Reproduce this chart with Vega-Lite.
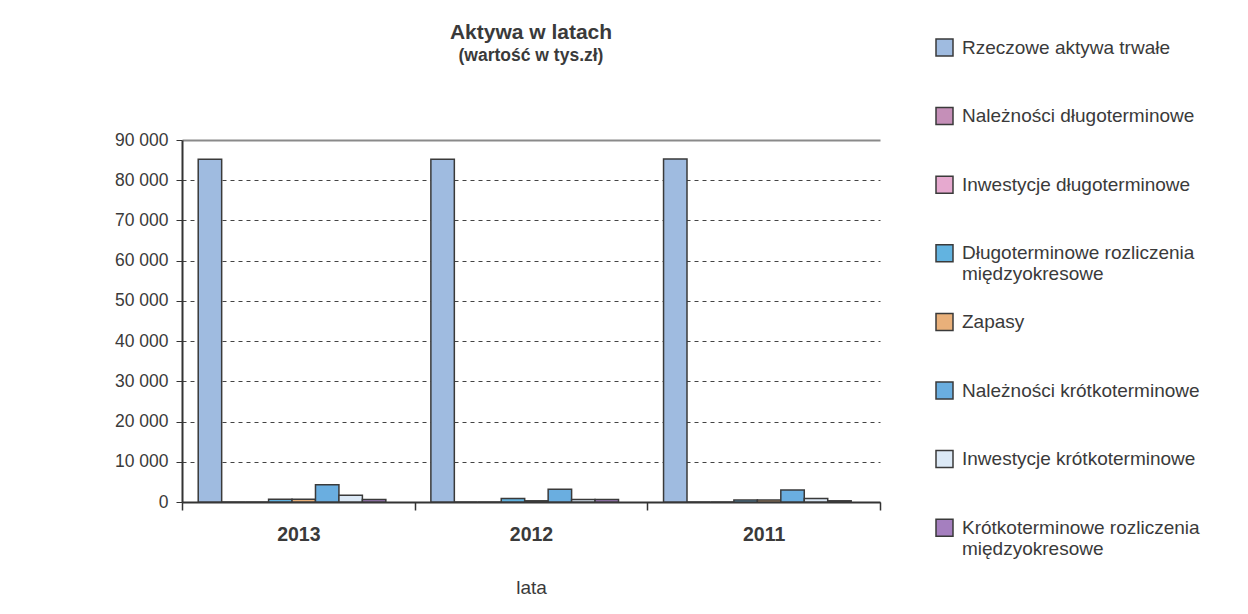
{
  "$schema": "https://vega.github.io/schema/vega-lite/v6.json",
  "width": 698,
  "height": 362,
  "autosize": {"type": "none"},
  "padding": {"left": 182, "top": 140, "right": 368, "bottom": 112},
  "background": "white",
  "config": {
    "font": "Liberation Sans",
    "view": {"stroke": null}
  },
  "title": {
    "text": "Aktywa w latach",
    "subtitle": "(wartość w tys.zł)",
    "anchor": "middle",
    "frame": "group",
    "fontSize": 21,
    "fontWeight": "bold",
    "color": "#3a3a3a",
    "subtitleFontSize": 17.5,
    "subtitleFontWeight": "bold",
    "subtitleColor": "#3a3a3a",
    "subtitlePadding": 4,
    "offset": -26
  },
  "data": {
    "values": [
      {"rok": "2013", "kategoria": "Rzeczowe aktywa trwałe", "wartosc": 85200},
      {"rok": "2013", "kategoria": "Należności długoterminowe", "wartosc": 0},
      {"rok": "2013", "kategoria": "Inwestycje długoterminowe", "wartosc": 0},
      {"rok": "2013", "kategoria": "Długoterminowe rozliczenia międzyokresowe", "wartosc": 700},
      {"rok": "2013", "kategoria": "Zapasy", "wartosc": 700},
      {"rok": "2013", "kategoria": "Należności krótkoterminowe", "wartosc": 4300},
      {"rok": "2013", "kategoria": "Inwestycje krótkoterminowe", "wartosc": 1700},
      {"rok": "2013", "kategoria": "Krótkoterminowe rozliczenia międzyokresowe", "wartosc": 600},
      {"rok": "2012", "kategoria": "Rzeczowe aktywa trwałe", "wartosc": 85200},
      {"rok": "2012", "kategoria": "Należności długoterminowe", "wartosc": 0},
      {"rok": "2012", "kategoria": "Inwestycje długoterminowe", "wartosc": 0},
      {"rok": "2012", "kategoria": "Długoterminowe rozliczenia międzyokresowe", "wartosc": 900},
      {"rok": "2012", "kategoria": "Zapasy", "wartosc": 300},
      {"rok": "2012", "kategoria": "Należności krótkoterminowe", "wartosc": 3200},
      {"rok": "2012", "kategoria": "Inwestycje krótkoterminowe", "wartosc": 600},
      {"rok": "2012", "kategoria": "Krótkoterminowe rozliczenia międzyokresowe", "wartosc": 600},
      {"rok": "2011", "kategoria": "Rzeczowe aktywa trwałe", "wartosc": 85300},
      {"rok": "2011", "kategoria": "Należności długoterminowe", "wartosc": 0},
      {"rok": "2011", "kategoria": "Inwestycje długoterminowe", "wartosc": 0},
      {"rok": "2011", "kategoria": "Długoterminowe rozliczenia międzyokresowe", "wartosc": 500},
      {"rok": "2011", "kategoria": "Zapasy", "wartosc": 500},
      {"rok": "2011", "kategoria": "Należności krótkoterminowe", "wartosc": 3000},
      {"rok": "2011", "kategoria": "Inwestycje krótkoterminowe", "wartosc": 900},
      {"rok": "2011", "kategoria": "Krótkoterminowe rozliczenia międzyokresowe", "wartosc": 300}
    ]
  },
  "mark": {"type": "bar", "stroke": "#3a3a3a", "strokeWidth": 1.5},
  "encoding": {
    "x": {
      "field": "rok",
      "type": "nominal",
      "sort": ["2013", "2012", "2011"],
      "scale": {"paddingInner": 0, "paddingOuter": 0},
      "axis": {
        "title": "lata",
        "titleFontSize": 19,
        "titleFontWeight": "normal",
        "titleColor": "#3a3a3a",
        "titlePadding": 35,
        "labelAngle": 0,
        "labelFontSize": 19.5,
        "labelFontWeight": "bold",
        "labelColor": "#3a3a3a",
        "labelPadding": 15,
        "tickBand": "extent",
        "tickSize": 8,
        "tickColor": "#333333",
        "tickWidth": 1.5,
        "domainColor": "#333333",
        "domainWidth": 2,
        "grid": false
      }
    },
    "xOffset": {
      "field": "kategoria",
      "type": "nominal",
      "sort": [
        "Rzeczowe aktywa trwałe",
        "Należności długoterminowe",
        "Inwestycje długoterminowe",
        "Długoterminowe rozliczenia międzyokresowe",
        "Zapasy",
        "Należności krótkoterminowe",
        "Inwestycje krótkoterminowe",
        "Krótkoterminowe rozliczenia międzyokresowe"
      ],
      "scale": {"paddingInner": 0, "paddingOuter": 0.96, "align": 0.36}
    },
    "y": {
      "field": "wartosc",
      "type": "quantitative",
      "scale": {"domain": [0, 90000], "nice": false},
      "axis": {
        "title": null,
        "values": [0, 10000, 20000, 30000, 40000, 50000, 60000, 70000, 80000, 90000],
        "labelExpr": "replace(format(datum.value, ','), regexp(',', 'g'), ' ')",
        "labelFontSize": 17.5,
        "labelColor": "#3a3a3a",
        "labelPadding": 8,
        "tickSize": 6,
        "tickColor": "#333333",
        "domainColor": "#333333",
        "domainWidth": 2,
        "grid": true,
        "gridColor": {"condition": {"test": "datum.value == 90000", "value": "#8a8a8a"}, "value": "#444444"},
        "gridDash": {"condition": {"test": "datum.value == 90000", "value": []}, "value": [4, 4]},
        "gridWidth": {"condition": {"test": "datum.value == 90000", "value": 2}, "value": 1}
      }
    },
    "color": {
      "field": "kategoria",
      "type": "nominal",
      "scale": {
        "domain": [
          "Rzeczowe aktywa trwałe",
          "Należności długoterminowe",
          "Inwestycje długoterminowe",
          "Długoterminowe rozliczenia międzyokresowe",
          "Zapasy",
          "Należności krótkoterminowe",
          "Inwestycje krótkoterminowe",
          "Krótkoterminowe rozliczenia międzyokresowe"
        ],
        "range": ["#9fbbe0", "#c58fb8", "#e6a9cf", "#62b3e0", "#e9b07a", "#6aaee0", "#dce9f6", "#a57fbf"]
      },
      "legend": {
        "title": null,
        "orient": "none",
        "legendX": 753,
        "legendY": -102,
        "gridAlign": "all",
        "symbolType": "square",
        "symbolSize": 289,
        "symbolStrokeColor": "#3a3a3a",
        "symbolStrokeWidth": 1.5,
        "symbolOpacity": 1,
        "labelFontSize": 19,
        "labelColor": "#3a3a3a",
        "labelLimit": 400,
        "labelOffset": 8,
        "rowPadding": 25.6,
        "labelBaseline": "middle",
        "labelExpr": "datum.label == 'Długoterminowe rozliczenia międzyokresowe' ? ['Długoterminowe rozliczenia', 'międzyokresowe'] : datum.label == 'Krótkoterminowe rozliczenia międzyokresowe' ? ['Krótkoterminowe rozliczenia', 'międzyokresowe'] : datum.label"
      }
    }
  }
}
